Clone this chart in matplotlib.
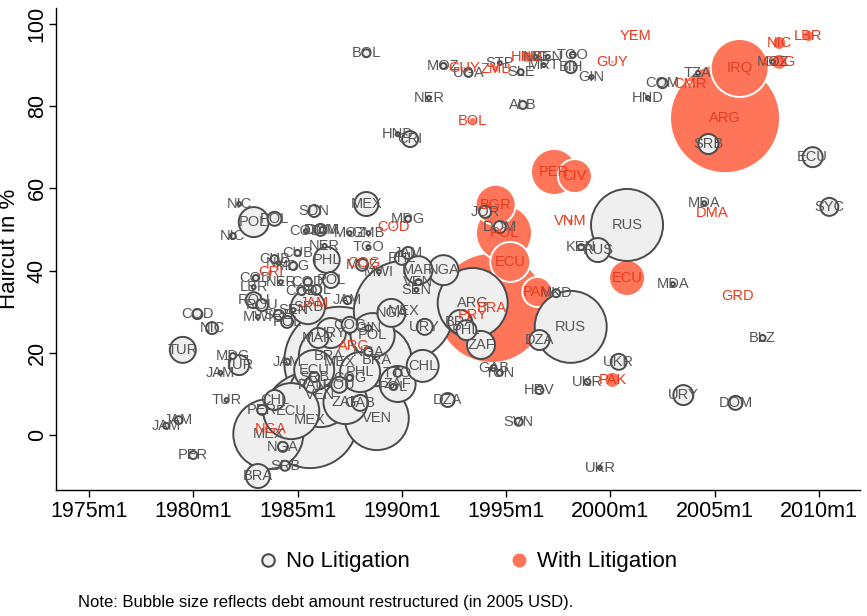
import matplotlib
matplotlib.use("Agg")
import matplotlib.pyplot as plt
from matplotlib.lines import Line2D
import numpy as np

plt.rcParams['font.family'] = ['Liberation Sans', 'DejaVu Sans']

# ---------------- data: no litigation ----------------
gray_codes = ["BOL","MOZ","UGA","STP","SLE","NIC","SEN","MRT","TGO","BIH","GIN","ALB","NER","HND","CRI",
              "COM","TZA","HND","SRB","ECU","MOZ","SYC","MDA","MDA","BLZ","URY","DOM","UKR","UKR","UKR",
              "RUS","RUS","KEN","RUS","JOR","DOM","MKD","ARG","BRA","PHL","ZAF","DZA","GAB","TUN","HRV",
              "SVN","DZA","MEX","NGA","URY","MAR","NGA","JAM","PHL","SEN","VEN","MWI","MOZ","TGO","MOZ",
              "GMB","MDG","MEX","SDN","COD","DOM","DOM","NER","PHL","CUB","CUB","NIC","MDG","COD","NER",
              "COD","POL","LBR","ROU","ROU","COD","COL","MWI","SRB","POL","SEN","SRB","JAM","POL","POL",
              "NIC","NIC","COD","NIC","TUR","MDG","TUR","JAM","TUR","JAM","JAM","PER","BRA","SRB","MEX",
              "NGA","MEX","VEN","CHL","ECU","PER","VEN","PAN","ROU","SRB","ECU","PHL","COG","ZAF","GAB",
              "MAR","URY","COG","GIN","POL","BRA","NGA","BRA","MEX","CHL","TTO","ZAF","POL","JAM"]
gray_date = [1988.3,1992.0,1993.2,1994.7,1995.7,1996.4,1997.0,1996.8,1998.2,1998.1,1999.1,1995.8,1991.3,1989.8,1990.4,
             2002.5,2004.2,2001.8,2004.7,2009.7,2007.8,2010.5,2004.5,2003.0,2007.3,2003.5,2006.0,2000.4,1998.9,1999.5,
             2000.8,1998.1,1998.6,1999.4,1994.0,1994.7,1997.4,1993.4,1992.8,1993.1,1993.8,1996.6,1994.4,1994.7,1996.6,
             1995.6,1992.2,1990.1,1989.5,1991.1,1990.8,1992.0,1990.3,1990.0,1990.7,1990.8,1988.9,1988.1,1988.4,1987.5,
             1988.4,1990.3,1988.3,1985.8,1985.4,1986.1,1986.2,1986.3,1986.4,1985.0,1983.9,1984.1,1984.8,1983.0,1984.2,
             1985.5,1986.6,1982.9,1982.9,1983.3,1985.2,1985.9,1983.1,1984.1,1984.5,1984.8,1985.5,1987.4,1982.9,1983.9,
             1982.2,1981.9,1980.2,1980.9,1979.5,1981.9,1982.2,1981.3,1981.6,1978.7,1979.3,1980.0,1983.1,1984.4,1983.6,
             1984.3,1985.6,1988.8,1983.9,1984.7,1983.3,1986.1,1985.7,1987.0,1985.8,1985.8,1988.0,1987.5,1987.3,1988.0,
             1986.0,1986.6,1987.5,1988.4,1988.6,1988.8,1988.4,1986.5,1987.0,1991.0,1989.8,1989.8,1989.6,1984.5]
gray_haircut = [92.9,89.8,88.1,90.5,88.3,92.0,92.0,90.0,92.5,89.5,87.1,80.3,82.0,73.2,72.0,
                85.6,88.1,82.0,70.8,67.6,90.8,55.5,56.4,36.7,23.6,9.7,7.8,17.8,12.9,-8.0,
                51.1,26.3,45.7,45.0,54.3,50.6,34.5,32.1,27.5,25.5,21.9,23.1,16.3,15.1,10.9,
                3.2,8.5,30.2,29.7,26.3,40.1,40.1,44.3,43.1,35.3,37.2,39.7,41.4,45.7,49.1,
                49.1,52.6,56.2,54.5,49.6,49.9,49.9,46.0,42.6,44.3,42.8,41.8,41.1,38.2,37.2,
                37.2,37.7,36.0,32.8,31.6,35.0,35.3,28.7,29.2,27.5,30.4,31.1,32.8,51.8,52.6,
                56.2,48.4,29.4,26.0,20.7,19.2,17.0,15.1,8.5,2.2,3.6,-4.9,-10.0,-7.5,0.2,
                -2.9,3.6,4.1,8.5,5.8,6.1,9.7,12.2,12.2,14.1,15.8,15.3,13.9,8.0,7.8,
                23.6,24.8,26.8,26.0,24.3,18.2,20.2,19.2,17.8,16.8,15.1,12.4,11.7,17.8]
gray_debt = [0.32,0.18,0.32,0.08,0.18,0.08,0.08,0.08,0.18,0.72,0.08,0.32,0.08,0.08,1.28,
             0.5,0.08,0.08,2.0,2.0,0.08,1.62,0.08,0.08,0.18,2.0,0.98,1.28,0.18,0.08,
             25.9,25.9,0.18,2.88,0.72,0.72,0.32,24.5,2.88,2.0,3.92,2.0,0.18,0.18,0.32,
             0.32,0.98,50.0,3.92,1.28,3.92,4.5,0.72,0.98,0.08,0.18,0.08,0.72,0.08,0.08,
             0.08,0.18,2.88,0.72,0.08,0.72,0.18,0.08,3.38,0.18,0.32,0.08,0.32,0.18,0.08,
             0.32,1.28,0.08,1.28,0.72,0.32,0.5,0.08,0.5,0.72,0.08,5.78,0.32,4.5,0.98,
             0.08,0.18,0.5,0.72,3.38,0.18,2.0,0.08,0.08,0.18,0.32,0.32,2.88,0.5,24.5,
             0.5,46.0,20.5,2.0,15.7,0.5,20.5,1.28,1.28,0.5,8.0,8.0,0.18,9.7,1.28,
             2.0,4.5,1.28,0.18,9.7,24.5,0.32,18.0,60.5,5.12,0.32,6.48,0.18,0.18]

# ---------------- data: with litigation ----------------
lit_codes = ["YEM","GUY","GUY","ZMB","HND","BOL","CMR","IRQ","NIC","LBR","COG","ARG","DMA","GRD","PAK",
             "ECU","VNM","PER","CIV","BGR","POL","ECU","PAN","BRA","PRY","COD","COG","CRI","JAM","ARG","NGA"]
lit_date = [2001.2,2000.1,1993.0,1994.5,1996.0,1993.4,2003.8,2006.2,2008.1,2009.5,2008.1,2005.5,2004.9,2006.1,2000.1,
            2000.8,1998.1,1997.3,1998.3,1994.5,1994.9,1995.2,1996.5,1994.3,1993.4,1989.6,1988.2,1983.7,1985.8,1987.7,1983.7]
lit_haircut = [97.1,90.8,89.3,89.1,92.0,76.4,85.4,89.3,95.4,97.1,90.8,77.1,54.0,33.8,13.4,
               38.2,52.1,64.0,63.0,56.0,49.1,42.1,34.8,30.9,29.2,50.6,41.8,39.7,32.1,21.7,1.5]
lit_debt = [0.08,0.08,0.08,0.32,0.72,0.32,0.08,16.8,0.98,0.72,1.28,60.5,0.08,0.08,1.28,
            6.48,0.18,10.6,5.78,8.0,15.7,8.0,4.5,60.5,0.08,0.08,0.18,0.18,0.18,18.0,0.32]

x_ticks = [1975, 1980, 1985, 1990, 1995, 2000, 2005, 2010]
x_ticklabels = [f"{y}m1" for y in x_ticks]
y_ticks = [0, 20, 40, 60, 80, 100]

# ---------------- styling ----------------
GRAY_FILL = "#efefef"
GRAY_EDGE = "#4a4a4a"
GRAY_TEXT = "#555555"
ORANGE = "#ff755a"
RED_TEXT = "#e8391d"
SIZE_K = 103.7  # marker area (pt^2) per unit of debt

fig = plt.figure(figsize=(8.67, 6.16), dpi=100)
ax = fig.add_axes([56/867, 126/616, 804/867, 482/616])

def draw(dates, hc, debt, face, edge, z):
    order = np.argsort(-np.asarray(debt), kind="stable")
    d = np.asarray(dates)[order]
    h = np.asarray(hc)[order]
    s = np.asarray(debt)[order] * SIZE_K
    ax.scatter(d, h, s=s, facecolors=face, edgecolors=edge, linewidths=1.4, zorder=z)

draw(lit_date, lit_haircut, lit_debt, ORANGE, "white", 2)
draw(gray_date, gray_haircut, gray_debt, GRAY_FILL, GRAY_EDGE, 3)

for c, d, h in zip(gray_codes, gray_date, gray_haircut):
    ax.text(d, h, c, ha="center", va="center", fontsize=10.5, color=GRAY_TEXT, zorder=4)
for c, d, h in zip(lit_codes, lit_date, lit_haircut):
    ax.text(d, h, c, ha="center", va="center", fontsize=10.5, color=RED_TEXT, zorder=5)

ax.set_xlim(1973.42, 2011.97)
ax.set_ylim(-13.4, 103.9)
ax.set_xticks(x_ticks)
ax.set_xticklabels(x_ticklabels, fontsize=15.5)
ax.set_yticks(y_ticks)
ax.set_yticklabels([str(v) for v in y_ticks], fontsize=15.5, rotation=90, va="center")
ax.set_ylabel("Haircut in %", fontsize=16)
ax.yaxis.set_label_coords(-36/804, 0.5)
for sp in ["top", "right"]:
    ax.spines[sp].set_visible(False)
for sp in ["left", "bottom"]:
    ax.spines[sp].set_linewidth(1.0)
    ax.spines[sp].set_color("black")
ax.tick_params(direction="out", length=5, width=1.0)
ax.tick_params(axis="y", pad=1)
ax.tick_params(axis="x", pad=3)

handles = [
    Line2D([0], [0], marker="o", linestyle="none", markersize=9, markerfacecolor=GRAY_FILL,
           markeredgecolor=GRAY_EDGE, markeredgewidth=1.5, label="No Litigation"),
    Line2D([0], [0], marker="o", linestyle="none", markersize=9, markerfacecolor=ORANGE,
           markeredgecolor=ORANGE, label="With Litigation"),
]
fig.legend(handles=handles, loc="center", bbox_to_anchor=(467/867, 1 - 562/616), ncol=2,
           frameon=False, fontsize=16, columnspacing=4.4, handlelength=1.0, handletextpad=0.3)

fig.text(78/867, 1 - 602/616, "Note: Bubble size reflects debt amount restructured (in 2005 USD).",
         ha="left", va="center", fontsize=12)

fig.savefig("out.png", dpi=100)
